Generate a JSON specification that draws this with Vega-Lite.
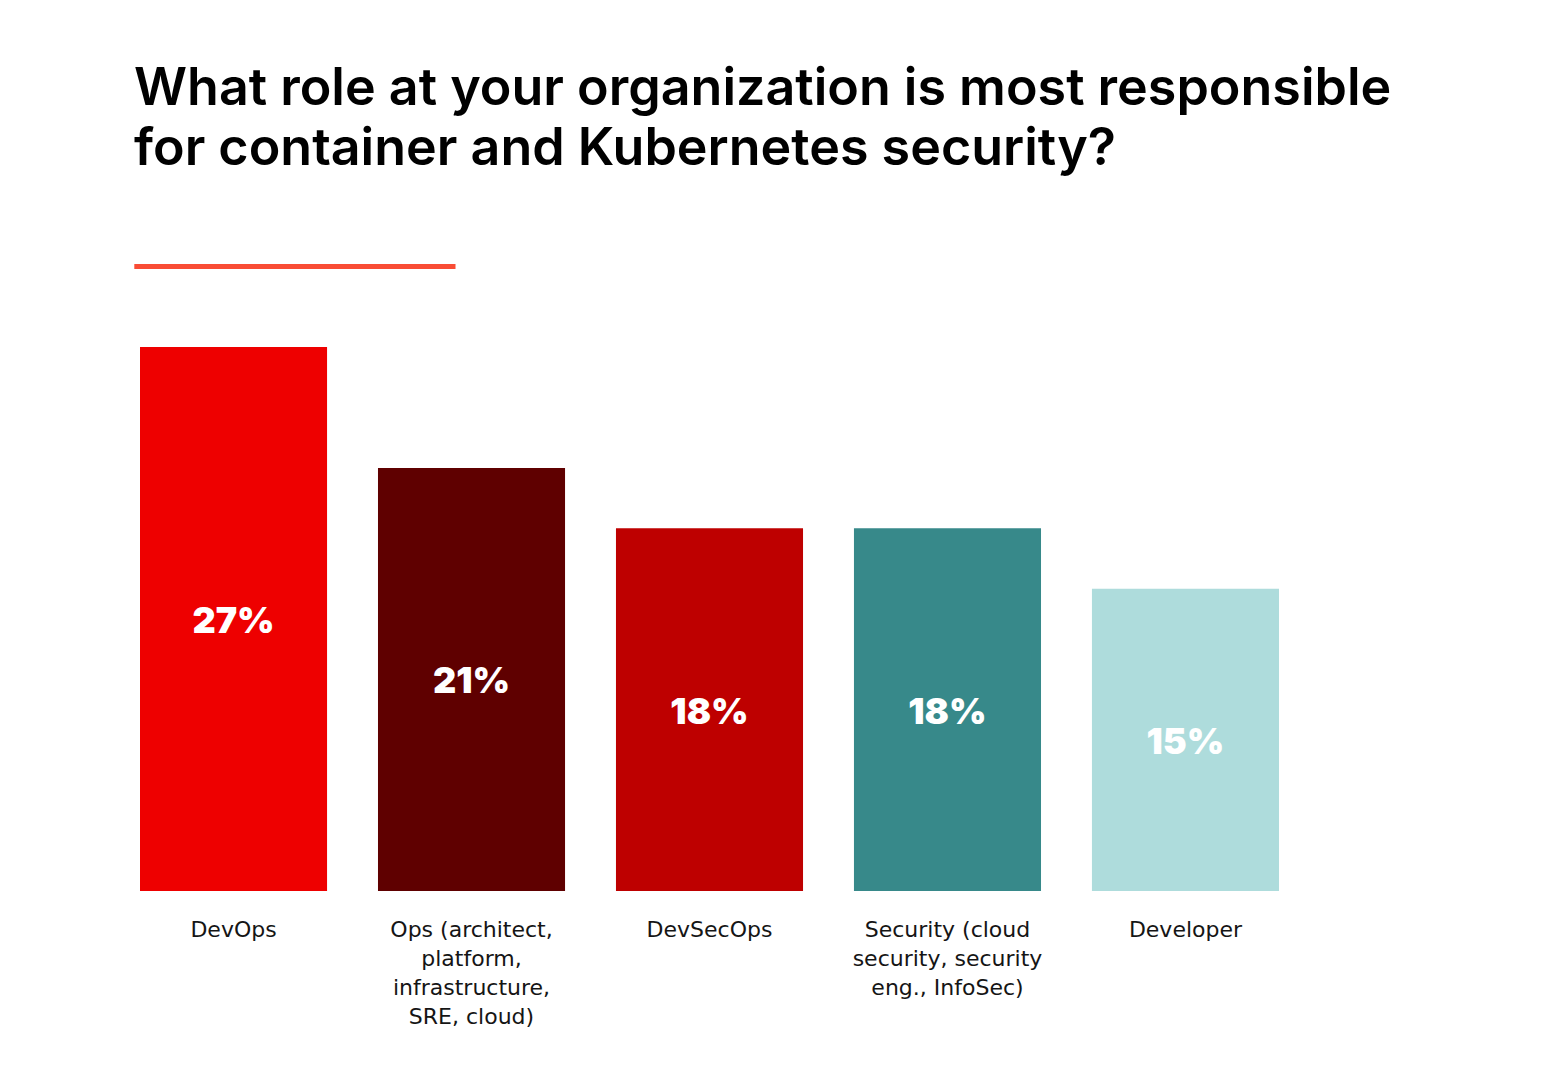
{
  "$schema": "https://vega.github.io/schema/vega-lite/v6.json",
  "width": 1139,
  "height": 544,
  "autosize": {"type": "none"},
  "padding": {"left": 140, "top": 347, "right": 287, "bottom": 196},
  "background": "white",
  "config": {"view": {"stroke": null}},
  "title": {
    "text": ["What role at your organization is most responsible", "for container and Kubernetes security?"],
    "anchor": "start",
    "frame": "group",
    "dx": -6,
    "offset": 36,
    "baseline": "bottom",
    "font": "Inter",
    "fontSize": 52,
    "fontWeight": 600,
    "lineHeight": 60,
    "color": "#000000"
  },
  "datasets": {
    "roles": [
      {"role": "DevOps", "pct": 27, "color": "#ee0000"},
      {"role": "Ops (architect, platform, infrastructure, SRE, cloud)", "pct": 21, "color": "#5f0000"},
      {"role": "DevSecOps", "pct": 18, "color": "#be0000"},
      {"role": "Security (cloud security, security eng., InfoSec)", "pct": 18, "color": "#37898a"},
      {"role": "Developer", "pct": 15, "color": "#aedcdc"}
    ],
    "accent": [
      {"from": -0.005, "to": 0.277, "level": 31}
    ]
  },
  "layer": [
    {
      "data": {"name": "roles"},
      "encoding": {
        "x": {
          "field": "role", "type": "nominal", "sort": null,
          "scale": {"paddingInner": 0.214, "paddingOuter": 0},
          "axis": {
            "title": null, "ticks": false, "domain": false,
            "labelAngle": 0, "labelPadding": 28,
            "labelFont": "DejaVu Sans", "labelFontSize": 22, "labelColor": "#151515",
            "labelLineHeight": 29, "labelLimit": 400,
            "labelExpr": "datum.value == 'Ops (architect, platform, infrastructure, SRE, cloud)' ? ['Ops (architect,', 'platform,', 'infrastructure,', 'SRE, cloud)'] : datum.value == 'Security (cloud security, security eng., InfoSec)' ? ['Security (cloud', 'security, security', 'eng., InfoSec)'] : datum.value"
          }
        }
      },
      "layer": [
        {
          "mark": {"type": "bar"},
          "encoding": {
            "y": {
              "field": "pct", "type": "quantitative",
              "scale": {"domain": [0, 27], "nice": false},
              "axis": null
            },
            "color": {"field": "color", "type": "nominal", "scale": null}
          }
        },
        {
          "transform": [
            {"calculate": "datum.pct / 2", "as": "mid"},
            {"calculate": "datum.pct + '%'", "as": "label"}
          ],
          "mark": {"type": "text", "font": "Inter", "fontSize": 36, "fontWeight": 900, "color": "white", "baseline": "middle", "dy": 3},
          "encoding": {
            "y": {"field": "mid", "type": "quantitative"},
            "text": {"field": "label", "type": "nominal"}
          }
        }
      ]
    },
    {
      "data": {"name": "accent"},
      "mark": {"type": "rule", "color": "#f94c35", "strokeWidth": 5, "clip": false},
      "encoding": {
        "x": {"field": "from", "type": "quantitative", "scale": {"domain": [0, 1], "nice": false, "zero": false}, "axis": null},
        "x2": {"field": "to"},
        "y": {"field": "level", "type": "quantitative"}
      }
    }
  ],
  "resolve": {"scale": {"x": "independent"}}
}
